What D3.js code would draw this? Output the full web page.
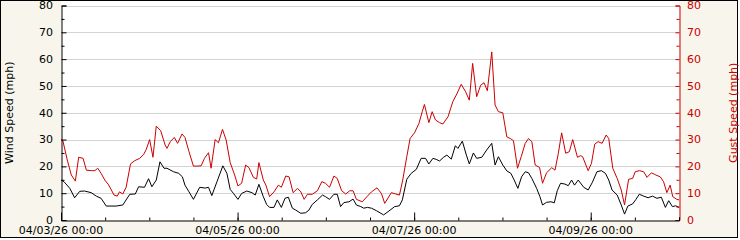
<!DOCTYPE html>
<html>
<head>
<meta charset="utf-8">
<script src="https://cdn.jsdelivr.net/npm/d3@7"></script>
<style>
  body { margin: 0; background: #ffffff; }
  text { font-family: "DejaVu Sans", sans-serif; font-size: 11px; }
</style>
</head>
<body>
<div id="chart"></div>
<script>
// hours since 04/03/26 00:00 at each visible vertex
var windHours = [0, 0.8, 2.4, 3.7, 5.1, 6.4, 8.2, 9.6, 10.9, 12.3, 15.0, 16.8, 18.7, 20.2, 21.1, 22.7, 23.8, 24.7, 25.9, 26.9,
  28.0, 28.8, 30.6, 32.0, 33.0, 33.7, 34.8, 36.0, 37.7, 39.2, 40.1, 41.0, 42.4, 44.0, 45.1, 46.0, 46.9, 48.1, 49.1, 50.5,
  51.9, 52.8, 53.8, 55.0, 55.9, 56.7, 57.9, 58.8, 59.9, 60.9, 61.8, 62.9, 63.8, 65.2, 66.5, 67.4, 68.3, 69.7, 71.1, 71.9,
  73.0, 74.2, 75.1, 76.0, 76.9, 78.3, 79.4, 80.3, 81.5, 82.3, 83.3, 84.4, 85.7, 87.7, 88.9, 90.7, 92.0, 92.8, 94.0, 95.2,
  96.6, 97.9, 99.1, 100.0, 101.1, 102.0, 102.9, 104.0, 104.9, 106.1, 107.2, 107.9, 109.1, 110.2, 111.0, 112.1, 113.0, 114.4, 115.7, 117.1,
  118.0, 118.9, 120.1, 121.2, 122.3, 123.2, 124.2, 125.2, 126.2, 127.1, 128.0, 129.3, 130.2, 130.9, 132.0, 133.2, 134.1, 134.9, 135.8, 137.0,
  137.9, 138.8, 139.6, 140.6, 142.1, 143.3, 144.4, 145.7, 146.9, 148.0, 148.9, 149.8, 151.2, 152.3, 153.2, 154.1, 155.4, 156.3, 157.2, 158.4,
  159.6, 160.8, 162.0, 163.2, 164.3, 165.2, 166.2, 167.1, 168];
var windMph = [14.9, 14.3, 11.8, 8.3, 10.7, 10.8, 10.2, 8.9, 8.1, 5.2, 5.2, 5.6, 9.6, 9.7, 12.4, 12.2, 15.4, 12.4, 14.9, 21.7,
  19.3, 19.3, 18.0, 17.4, 16.1, 13.0, 10.5, 7.7, 12.2, 11.9, 12.2, 9.1, 14.3, 20.2, 17.4, 11.4, 9.9, 7.7, 9.9, 10.8,
  10.2, 9.3, 13.3, 8.7, 5.8, 4.7, 4.7, 7.5, 4.7, 8.1, 8.5, 4.4, 3.7, 2.5, 2.7, 3.7, 5.8, 7.5, 9.3, 8.7,
  7.7, 9.6, 9.6, 5.0, 6.5, 6.8, 7.8, 5.6, 5.0, 4.4, 4.7, 4.4, 3.5, 1.9, 3.1, 5.0, 5.3, 7.5, 15.2, 17.4,
  18.9, 23.0, 23.0, 20.9, 23.0, 22.6, 22.0, 23.4, 24.2, 22.7, 27.7, 26.7, 29.4, 24.2, 20.9, 25.0, 23.0, 23.4, 26.1, 28.6,
  20.5, 23.6, 20.5, 18.3, 17.4, 14.9, 11.8, 16.1, 18.0, 17.6, 15.5, 11.8, 8.7, 5.6, 6.6, 6.8, 6.4, 10.9, 13.7, 13.4,
  12.8, 14.9, 13.0, 14.9, 12.2, 11.2, 13.9, 18.0, 18.4, 17.4, 14.9, 11.2, 9.3, 5.6, 2.2, 5.2, 6.0, 7.7, 9.6, 8.9,
  8.3, 8.9, 8.1, 8.5, 4.7, 7.2, 5.0, 5.3, 4.7];

var gustHours = [0, 0.5, 1.7, 2.8, 3.9, 4.8, 6.0, 6.9, 8.2, 9.2, 10.0, 10.9, 11.9, 12.8, 13.7, 14.4, 15.3, 15.9, 16.8, 17.7,
  18.9, 20.0, 21.4, 22.5, 23.2, 24.1, 25.0, 25.9, 27.1, 28.3, 28.8, 29.7, 30.8, 31.7, 32.9, 33.7, 34.8, 36.0, 36.9, 38.1,
  39.0, 40.1, 40.8, 41.9, 42.8, 43.9, 44.9, 46.0, 47.2, 48.1, 49.1, 50.2, 51.1, 52.3, 53.2, 53.8, 55.0, 55.7, 56.7, 57.9,
  59.1, 59.9, 61.1, 62.0, 63.1, 64.3, 65.2, 66.1, 67.0, 68.3, 69.7, 70.9, 71.9, 73.0, 74.2, 75.1, 76.3, 77.4, 78.5, 79.4,
  80.3, 81.9, 83.3, 84.4, 85.9, 87.1, 88.0, 89.8, 91.0, 92.0, 92.9, 94.0, 94.9, 96.1, 97.3, 98.2, 98.8, 99.5, 100.0, 100.9,
  101.8, 102.9, 103.8, 105.2, 106.5, 107.6, 108.8, 110.0, 111.0, 111.9, 113.0, 114.1, 115.0, 115.9, 117.1, 118.0, 118.9, 120.1, 121.2, 122.1,
  123.0, 124.1, 125.1, 126.2, 127.1, 128.0, 128.9, 130.1, 130.9, 132.0, 133.4, 134.3, 135.2, 136.1, 137.2, 138.2, 139.1, 140.4, 141.3, 141.8,
  143.3, 144.2, 145.1, 146.0, 147.1, 148.2, 148.9, 150.0, 151.2, 152.3, 153.2, 154.3, 155.4, 156.1, 157.2, 158.4, 159.3, 160.5, 161.7, 162.9,
  163.8, 164.7, 165.6, 166.3, 167.4, 168];
var gustMph = [30.0, 29.6, 22.4, 16.8, 14.5, 23.4, 23.0, 18.6, 18.4, 18.4, 19.3, 17.4, 14.9, 13.4, 11.2, 9.3, 8.9, 10.5, 9.7, 12.2,
  20.9, 22.1, 23.0, 24.5, 26.4, 30.0, 23.4, 35.0, 33.3, 28.0, 26.7, 29.2, 30.8, 28.6, 32.1, 30.8, 25.5, 20.1, 20.1, 20.2,
  23.0, 25.1, 19.3, 30.0, 28.8, 33.8, 29.8, 21.4, 16.8, 12.7, 13.7, 20.5, 19.5, 15.9, 15.3, 21.4, 14.9, 13.0, 8.7, 10.5,
  13.0, 12.2, 16.4, 16.1, 10.2, 11.8, 10.5, 7.7, 9.6, 9.6, 10.9, 14.3, 13.7, 12.2, 16.4, 15.5, 10.9, 9.7, 10.9, 10.9,
  7.7, 6.8, 8.9, 10.5, 12.0, 9.9, 6.2, 10.2, 9.7, 9.3, 14.9, 23.6, 30.4, 32.5, 36.0, 40.4, 43.1, 39.1, 36.3, 40.4,
  37.3, 36.3, 35.8, 38.5, 44.1, 47.0, 50.6, 47.8, 44.7, 58.4, 46.0, 50.3, 51.2, 48.2, 62.7, 42.9, 40.4, 40.0, 31.0, 30.4,
  29.6, 19.3, 23.6, 28.6, 30.4, 29.2, 20.5, 19.6, 13.7, 17.6, 19.5, 18.6, 24.9, 32.5, 24.9, 25.5, 30.0, 23.4, 24.0, 23.6,
  18.4, 21.1, 28.3, 29.2, 28.6, 31.7, 30.4, 19.3, 15.5, 11.2, 5.6, 15.2, 15.5, 18.0, 18.4, 18.0, 15.9, 17.6, 16.8, 16.1,
  14.3, 10.2, 13.0, 8.7, 7.7, 7.5];

var yTicks = [0, 10, 20, 30, 40, 50, 60, 70, 80];
var xLabelHours = [0, 48, 96, 144];

function init()
{
    var w = 740, h = 240;
    var pLeft = 61, pRight = 679, pTop = 5.5, pBottom = 220;
    var red = "#cc0000";

    var start = new Date(2026, 3, 3, 0, 0);
    var toDate = function(hr) { return new Date(start.getTime() + hr * 3600000); };

    var svg = d3.select("#chart").append("svg")
        .attr("width", w)
        .attr("height", h);

    // background + frame
    svg.append("rect")
        .attr("x", 0.5).attr("y", 0.5)
        .attr("width", 737).attr("height", 237)
        .attr("fill", "#f8f6ec")
        .attr("stroke", "#000");

    svg.append("rect")
        .attr("x", pLeft).attr("y", 1)
        .attr("width", pRight - pLeft).attr("height", pBottom - 1)
        .attr("fill", "#fff");

    var x = d3.scaleTime()
        .domain([start, toDate(168)])
        .range([pLeft, pRight]);

    var y = d3.scaleLinear().domain([0, 80]).range([pBottom, pTop]);
    var y2 = d3.scaleLinear().domain([0, 80]).range([pBottom, pTop]);

    // horizontal grid
    svg.append("g")
        .selectAll("line")
        .data(yTicks.slice(1))
        .enter()
        .append("line")
        .attr("x1", pLeft).attr("x2", pRight)
        .attr("y1", function(d) { return Math.round(y(d)) + 0.5; })
        .attr("y2", function(d) { return Math.round(y(d)) + 0.5; })
        .attr("stroke", "#d4d4d4");

    var line = function(hours, yS) {
        return d3.line()
            .x(function(d, i) { return x(toDate(hours[i])); })
            .y(function(d) { return yS(d); });
    };

    svg.append("path")
        .datum(gustMph)
        .attr("d", line(gustHours, y2))
        .attr("fill", "none")
        .attr("stroke", red)
        .attr("stroke-width", 1);

    svg.append("path")
        .datum(windMph)
        .attr("d", line(windHours, y))
        .attr("fill", "none")
        .attr("stroke", "#000")
        .attr("stroke-width", 1);

    // left axis, ticks pointing inward
    var yAxis = d3.axisRight(y).tickValues(yTicks).tickSize(5).tickFormat("");
    var yMinor = d3.axisRight(y).tickValues(d3.range(5, 80, 10)).tickSize(3).tickFormat("");
    svg.append("g").attr("transform", "translate(" + (pLeft + 0.5) + ",0)").call(yAxis);
    svg.append("g").attr("transform", "translate(" + (pLeft + 0.5) + ",0)").call(yMinor).select(".domain").remove();
    svg.append("g")
        .selectAll("text")
        .data(yTicks)
        .enter()
        .append("text")
        .attr("x", pLeft - 8)
        .attr("y", function(d) { return y(d); })
        .attr("dy", "0.35em")
        .attr("text-anchor", "end")
        .text(function(d) { return d; });

    // right axis (gusts)
    var y2Axis = d3.axisLeft(y2).tickValues(yTicks).tickSize(4).tickFormat("");
    var y2Minor = d3.axisLeft(y2).tickValues(d3.range(5, 80, 10)).tickSize(3).tickFormat("");
    var r1 = svg.append("g").attr("transform", "translate(" + (pRight + 0.5) + ",0)").call(y2Axis);
    var r2 = svg.append("g").attr("transform", "translate(" + (pRight + 0.5) + ",0)").call(y2Minor);
    r2.select(".domain").remove();
    [r1, r2].forEach(function(g) {
        g.selectAll("line, path").attr("stroke", red);
    });
    svg.append("g")
        .selectAll("text")
        .data(yTicks)
        .enter()
        .append("text")
        .attr("x", pRight + 8)
        .attr("y", function(d) { return y2(d); })
        .attr("dy", "0.35em")
        .attr("fill", red)
        .text(function(d) { return d; });

    // bottom axis: 12h ticks, longer ticks + labels every 2 days
    var xMinor = d3.axisTop(x).ticks(d3.timeHour.every(12)).tickSize(3).tickFormat("");
    var xMajor = d3.axisTop(x).tickValues(xLabelHours.map(toDate)).tickSize(8).tickFormat("");
    svg.append("g").attr("transform", "translate(0," + (pBottom + 0.5) + ")").call(xMinor);
    svg.append("g").attr("transform", "translate(0," + (pBottom + 0.5) + ")").call(xMajor).select(".domain").remove();

    var fmt = d3.timeFormat("%m/%d/%y %H:%M");
    svg.append("g")
        .selectAll("text")
        .data(xLabelHours)
        .enter()
        .append("text")
        .attr("x", function(d) { return x(toDate(d)); })
        .attr("y", 233.5)
        .attr("text-anchor", "middle")
        .text(function(d) { return fmt(toDate(d)); });

    // axis titles
    svg.append("text")
        .attr("transform", "translate(9," + ((pTop + pBottom) / 2) + ") rotate(-90)")
        .attr("dy", "0.35em")
        .attr("text-anchor", "middle")
        .text("Wind Speed (mph)");

    svg.append("text")
        .attr("transform", "translate(733," + ((pTop + pBottom) / 2) + ") rotate(-90)")
        .attr("dy", "0.35em")
        .attr("text-anchor", "middle")
        .attr("fill", red)
        .text("Gust Speed (mph)");
}
window.onload = init;
</script>
</body>
</html>
